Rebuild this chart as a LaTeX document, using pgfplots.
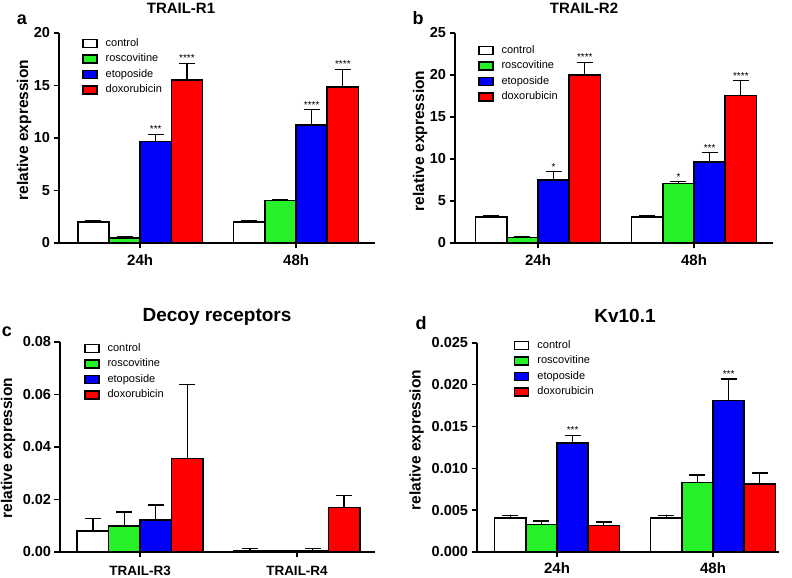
\documentclass[border=0pt]{standalone}
\usepackage{pgfplots}
\pgfplotsset{compat=1.18}
\usepackage{fontspec}
\setmainfont{Liberation Sans}
\definecolor{cgreen}{RGB}{40,240,40}
\definecolor{cblue}{RGB}{0,0,250}
\definecolor{cred}{RGB}{255,0,0}
\tikzset{star/.style={anchor=base, yshift=1.5bp, inner sep=0pt, font=\fontsize{10bp}{12bp}\selectfont}}
\pgfplotsset{
  panel/.style={
    scale only axis,
    axis lines*=left,
    axis line style={line width=1.6bp, black},
    every tick/.style={line width=1.4bp, black},
    major tick length=5.5bp,
    tick align=outside,
    xtick={0,1},
    ymin=0,
    ybar, bar width=0.2, bar shift=0pt,
    /pgf/number format/assume math mode=true,
    yticklabel style={font=\fontsize{14.5bp}{17bp}\selectfont\bfseries},
    xticklabel style={font=\fontsize{15bp}{17bp}\selectfont\bfseries, yshift=-2.5bp},
    ylabel={relative expression},
    ylabel style={font=\fontsize{15.5bp}{18bp}\selectfont\bfseries, anchor=center},
    legend cell align=left,
    legend style={draw=none, fill=none, inner sep=0pt, font=\fontsize{11bp}{13bp}\selectfont, row sep=5bp, column sep=8bp, nodes={inner sep=0pt, text height=8bp, text depth=2.5bp}, anchor=north west},
    legend image code/.code={\draw[#1, draw=black, line width=1.4bp] (0bp,-4bp) rectangle (14bp,4bp);},
    every axis plot/.append style={draw=black, line width=1.6bp},
  },
  errb/.style={/pgfplots/error bars/y dir=plus, /pgfplots/error bars/y explicit,
    /pgfplots/error bars/error bar style={line width=1.2bp, black},
    /pgfplots/error bars/error mark options={line width=1.2bp, black, mark size=8bp, rotate=90}},
}
\begin{document}
\begin{tikzpicture}[x=1bp, y=1bp]
\useasboundingbox (0,0) rectangle (792,578);
% ---------- panel a ----------
\begin{axis}[panel, at={(59bp,335bp)}, anchor=south west, width=316bp, height=210bp,
  xmin=-0.52, xmax=1.506, ymax=20, ytick={0,5,10,15,20},
  xticklabels={24h,48h},
  ylabel style={at={(axis description cs:-0.110,0.538)}},
  legend style={at={(axis description cs:0.073,0.976)}}]
\addplot[fill=white, errb] coordinates {(-0.3,2.0) +- (0,0.17) (0.7,2.0) +- (0,0.17)};
\addplot[fill=cgreen, errb] coordinates {(-0.1,0.5) +- (0,0.07) (0.9,4.04) +- (0,0.13)};
\addplot[fill=cblue, errb] coordinates {(0.1,9.65) +- (0,0.7) (1.1,11.24) +- (0,1.44)};
\addplot[fill=cred, errb] coordinates {(0.3,15.54) +- (0,1.59) (1.3,14.84) +- (0,1.72)};
\legend{control,roscovitine,etoposide,doxorubicin}
\node[star] at (axis cs:0.1,10.35) {***};
\node[star] at (axis cs:0.3,17.13) {****};
\node[star] at (axis cs:1.1,12.68) {****};
\node[star] at (axis cs:1.3,16.56) {****};
\end{axis}
% ---------- panel b ----------
\begin{axis}[panel, at={(455bp,335bp)}, anchor=south west, width=318bp, height=210bp,
  xmin=-0.532, xmax=1.506, ymax=25, ytick={0,5,10,15,20,25},
  xticklabels={24h,48h},
  ylabel style={at={(axis description cs:-0.110,0.486)}},
  legend style={at={(axis description cs:0.072,0.943)}}]
\addplot[fill=white, errb] coordinates {(-0.3,3.1) +- (0,0.2) (0.7,3.1) +- (0,0.2)};
\addplot[fill=cgreen, errb] coordinates {(-0.1,0.64) +- (0,0.16) (0.9,7.09) +- (0,0.21)};
\addplot[fill=cblue, errb] coordinates {(0.1,7.48) +- (0,1.0) (1.1,9.67) +- (0,1.08)};
\addplot[fill=cred, errb] coordinates {(0.3,20.0) +- (0,1.5) (1.3,17.56) +- (0,1.74)};
\legend{control,roscovitine,etoposide,doxorubicin}
\node[star] at (axis cs:0.1,8.48) {*};
\node[star] at (axis cs:0.3,21.5) {****};
\node[star] at (axis cs:0.9,7.3) {*};
\node[star] at (axis cs:1.1,10.75) {***};
\node[star] at (axis cs:1.3,19.3) {****};
\end{axis}
% ---------- panel c ----------
\begin{axis}[panel, at={(60bp,26bp)}, anchor=south west, width=315bp, height=210bp,
  xmin=-0.51, xmax=1.497, ymax=0.08, ytick={0,0.02,0.04,0.06,0.08},
  yticklabel style={/pgf/number format/.cd, fixed, fixed zerofill, precision=2},
  xticklabel style={font=\fontsize{13.5bp}{16bp}\selectfont\bfseries, yshift=-2.5bp},
  scaled y ticks=false,
  xticklabels={TRAIL-R3,TRAIL-R4},
  ylabel style={at={(axis description cs:-0.165,0.495)}},
  legend style={at={(axis description cs:0.076,0.995)}}]
\addplot[fill=white, errb] coordinates {(-0.3,0.0081) +- (0,0.0048) (0.7,0.0005) +- (0,0.0008)};
\addplot[fill=cgreen, errb] coordinates {(-0.1,0.0100) +- (0,0.0052) (0.9,0.0003) +- (0,0.0002)};
\addplot[fill=cblue, errb] coordinates {(0.1,0.0121) +- (0,0.0058) (1.1,0.0005) +- (0,0.0008)};
\addplot[fill=cred, errb] coordinates {(0.3,0.0356) +- (0,0.0282) (1.3,0.0169) +- (0,0.0047)};
\legend{control,roscovitine,etoposide,doxorubicin}
\end{axis}
% ---------- panel d ----------
\begin{axis}[panel, at={(477bp,26bp)}, anchor=south west, width=302bp, height=209bp,
  xmin=-0.513, xmax=1.423, ymax=0.025, ytick={0,0.005,0.01,0.015,0.02,0.025},
  yticklabel style={/pgf/number format/.cd, fixed, fixed zerofill, precision=3},
  xticklabel style={inner sep=0.5bp, yshift=-2bp},
  scaled y ticks=false,
  xticklabels={24h,48h},
  ylabel style={at={(axis description cs:-0.20,0.536)}},
  legend style={at={(axis description cs:0.122,1.014)}}]
\addplot[fill=white, errb] coordinates {(-0.3,0.00407) +- (0,0.0003) (0.7,0.00407) +- (0,0.00025)};
\addplot[fill=cgreen, errb] coordinates {(-0.1,0.00327) +- (0,0.00044) (0.9,0.00833) +- (0,0.00088)};
\addplot[fill=cblue, errb] coordinates {(0.1,0.01304) +- (0,0.00092) (1.1,0.01814) +- (0,0.00256)};
\addplot[fill=cred, errb] coordinates {(0.3,0.00315) +- (0,0.00044) (1.3,0.00813) +- (0,0.00132)};
\legend{control,roscovitine,etoposide,doxorubicin}
\node[star] at (axis cs:0.1,0.01396) {***};
\node[star] at (axis cs:1.1,0.0207) {***};
\end{axis}
% ---------- titles and panel letters ----------
\node[anchor=base, font=\fontsize{15bp}{18bp}\selectfont\bfseries] at (181,564) {TRAIL-R1};
\node[anchor=base, font=\fontsize{15bp}{18bp}\selectfont\bfseries] at (584,564) {TRAIL-R2};
\node[anchor=base, font=\fontsize{19bp}{22bp}\selectfont\bfseries] at (217,256) {Decoy receptors};
\node[anchor=base, font=\fontsize{19bp}{22bp}\selectfont\bfseries] at (625,255) {Kv10.1};
\node[anchor=base, font=\fontsize{18bp}{21bp}\selectfont\bfseries] at (22,553) {a};
\node[anchor=base, font=\fontsize{18bp}{21bp}\selectfont\bfseries] at (418,553) {b};
\node[anchor=base, font=\fontsize{18bp}{21bp}\selectfont\bfseries] at (7,241) {c};
\node[anchor=base, font=\fontsize{18bp}{21bp}\selectfont\bfseries] at (421,248) {d};
\end{tikzpicture}
\end{document}
